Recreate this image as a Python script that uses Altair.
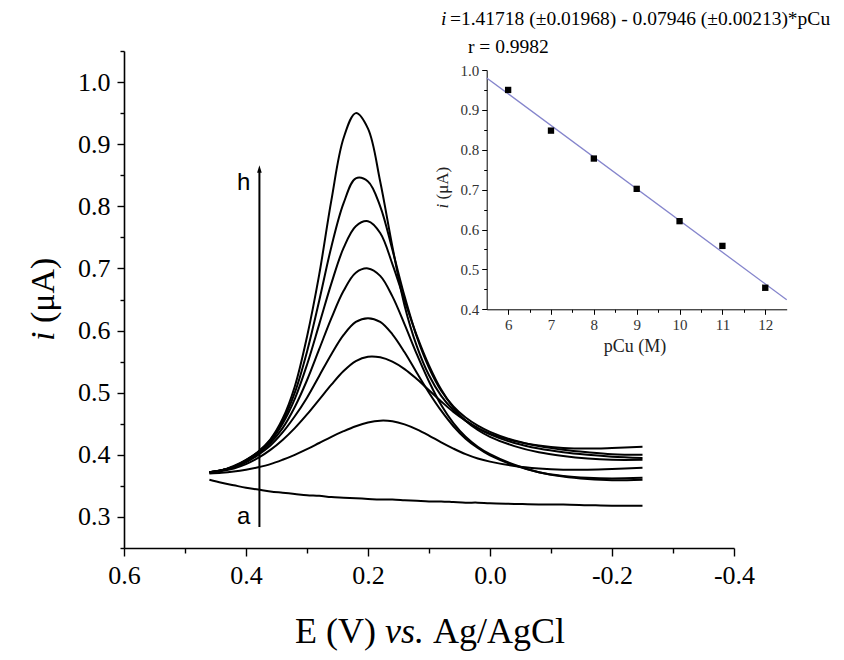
import altair as alt
import pandas as pd

# ---------------- data ----------------
E = [0.46, 0.44, 0.42, 0.40, 0.38, 0.36, 0.34, 0.32, 0.30, 0.28, 0.26, 0.24, 0.22, 0.20,
     0.18, 0.16, 0.14, 0.12, 0.10, 0.08, 0.06, 0.04, 0.02, 0.00, -0.04, -0.08, -0.12,
     -0.16, -0.20, -0.25]

curve_a = [0.360, 0.355, 0.351, 0.347, 0.344, 0.341, 0.339, 0.337, 0.335, 0.334, 0.332,
           0.331, 0.330, 0.329, 0.328, 0.328, 0.327, 0.326, 0.325, 0.325, 0.324, 0.323,
           0.323, 0.322, 0.321, 0.320, 0.320, 0.319, 0.318, 0.318]
curve_b = [0.370, 0.371, 0.373, 0.376, 0.380, 0.385, 0.392, 0.400, 0.409, 0.419, 0.429,
           0.438, 0.446, 0.452, 0.455, 0.454, 0.449, 0.441, 0.431, 0.420, 0.410, 0.401,
           0.394, 0.389, 0.382, 0.378, 0.376, 0.376, 0.377, 0.379]
curve_c = [0.372, 0.374, 0.378, 0.385, 0.395, 0.408, 0.424, 0.443, 0.465, 0.489, 0.513,
           0.535, 0.551, 0.558, 0.557, 0.550, 0.538, 0.522, 0.504, 0.486, 0.469, 0.455,
           0.443, 0.434, 0.422, 0.415, 0.411, 0.410, 0.411, 0.413]
curve_d = [0.372, 0.375, 0.380, 0.388, 0.400, 0.415, 0.436, 0.462, 0.492, 0.527, 0.562,
           0.593, 0.614, 0.620, 0.614, 0.594, 0.565, 0.532, 0.500, 0.471, 0.446, 0.426,
           0.411, 0.399, 0.383, 0.372, 0.366, 0.363, 0.362, 0.363]
curve_e = [0.372, 0.375, 0.381, 0.390, 0.402, 0.419, 0.443, 0.477, 0.520, 0.570, 0.620,
           0.664, 0.693, 0.700, 0.688, 0.655, 0.610, 0.562, 0.518, 0.480, 0.451, 0.429,
           0.413, 0.401, 0.384, 0.372, 0.365, 0.361, 0.359, 0.360]
curve_f = [0.372, 0.375, 0.381, 0.391, 0.404, 0.422, 0.450, 0.490, 0.545, 0.610, 0.676,
           0.733, 0.768, 0.776, 0.757, 0.707, 0.648, 0.592, 0.544, 0.505, 0.476, 0.455,
           0.440, 0.429, 0.414, 0.404, 0.398, 0.394, 0.392, 0.392]
curve_g = [0.372, 0.375, 0.381, 0.391, 0.405, 0.424, 0.454, 0.500, 0.566, 0.648, 0.735,
           0.805, 0.845, 0.840, 0.800, 0.730, 0.655, 0.590, 0.540, 0.503, 0.478, 0.460,
           0.447, 0.437, 0.423, 0.414, 0.408, 0.404, 0.401, 0.400]
curve_h = [0.372, 0.375, 0.382, 0.392, 0.405, 0.425, 0.458, 0.510, 0.590, 0.690, 0.810,
           0.910, 0.950, 0.925, 0.840, 0.735, 0.640, 0.575, 0.528, 0.495, 0.472, 0.455,
           0.443, 0.433, 0.419, 0.410, 0.404, 0.400, 0.397, 0.395]

curve_names = ["a", "b", "c", "d", "e", "f", "g", "h"]
curve_values = [curve_a, curve_b, curve_c, curve_d, curve_e, curve_f, curve_g, curve_h]

# arrow a -> h
arrow_E = [0.378]
arrow_i_start = [0.284]
arrow_i_end = [0.858]
label_E = [0.404, 0.404]
label_i = [0.838, 0.300]
label_txt = ["h", "a"]

# inset calibration data
pCu = [6, 7, 8, 9, 10, 11, 12]
peak_i = [0.950, 0.848, 0.778, 0.702, 0.621, 0.559, 0.454]
fit_intercept = 1.41718
fit_slope = -0.07946
fit_x = [5.5, 12.5]
fit_y = [fit_intercept + fit_slope * x for x in fit_x]

# axis tick values
x_vals = [0.6, 0.5, 0.4, 0.3, 0.2, 0.1, 0.0, -0.1, -0.2, -0.3, -0.4]
y_major = [0.3, 0.4, 0.5, 0.6, 0.7, 0.8, 0.9, 1.0]
y_minor = [0.25, 0.35, 0.45, 0.55, 0.65, 0.75, 0.85, 0.95, 1.05]
ix_vals = [6, 6.5, 7, 7.5, 8, 8.5, 9, 9.5, 10, 10.5, 11, 11.5, 12]
iy_major = [0.4, 0.5, 0.6, 0.7, 0.8, 0.9, 1.0]
iy_minor = [0.45, 0.55, 0.65, 0.75, 0.85, 0.95]

# ---------------- tables ----------------
rows = []
for name, vals in zip(curve_names, curve_values):
    for e, v in zip(E, vals):
        rows.append({"curve": name, "E": e, "i": v})
main_df = pd.DataFrame(rows)
arrow_df = pd.DataFrame({"E": arrow_E, "i0": arrow_i_start, "i1": arrow_i_end})
lab_df = pd.DataFrame({"E": label_E, "i": label_i, "t": label_txt})
pts_df = pd.DataFrame({"pCu": pCu, "ip": peak_i})
fit_df = pd.DataFrame({"pCu": fit_x, "ip": fit_y})
yminor_df = pd.DataFrame({"i": y_minor})
iyminor_df = pd.DataFrame({"ip": iy_minor})

SERIF = "Liberation Serif"
SANS = "Liberation Sans"

xmaj = "abs(datum.value*5 - round(datum.value*5)) < 0.001"
ixmaj = "abs(datum.value - round(datum.value)) < 0.001"

XS = alt.Scale(domain=[-0.4, 0.6], reverse=True, nice=False, zero=False)
YS = alt.Scale(domain=[0.25, 1.05], nice=False, zero=False)

x_main = alt.X("E:Q", scale=XS,
    axis=alt.Axis(title=None, values=x_vals, grid=False,
                  labelExpr=f"{xmaj} ? (datum.value < -0.001 ? '-' : '') + format(abs(datum.value), '.1f') : ''",
                  tickSize={"condition": {"test": xmaj, "value": 8}, "value": 5},
                  labelFont=SERIF, labelFontSize=26, labelPadding=6, labelOverlap=False,
                  labelFlush=False))
y_main = alt.Y("i:Q", scale=YS,
    axis=alt.Axis(title=None, orient="left", values=y_major, grid=False, format=".1f",
                  tickSize=7, labelFont=SERIF, labelFontSize=26, labelPadding=7,
                  labelOverlap=False, labelFlush=False))

curves = alt.Chart(main_df).mark_line(interpolate="catmull-rom", color="black",
                                      strokeWidth=2).encode(
    x=x_main, y=y_main, detail="curve:N",
    order=alt.Order("E:Q", sort="descending"))

yminor = alt.Chart(yminor_df).mark_point(opacity=0).encode(
    y=alt.Y("i:Q", scale=YS,
            axis=alt.Axis(title=None, orient="left", values=y_minor, labels=False,
                          domain=False, tickSize=4, grid=False)))

arrow = alt.Chart(arrow_df).mark_rule(color="black", strokeWidth=2).encode(
    x=alt.X("E:Q"), y=alt.Y("i0:Q", axis=None), y2="i1:Q")
head = alt.Chart(arrow_df).mark_point(shape="M0,-1.2L0.55,0.6L-0.55,0.6Z", filled=True,
                                      color="black", opacity=1, size=70).encode(
    x=alt.X("E:Q"), y=alt.Y("i1:Q", axis=None))
labs = alt.Chart(lab_df).mark_text(font=SANS, fontSize=24, color="black",
                                   baseline="middle", align="center").encode(
    x="E:Q", y=alt.Y("i:Q", axis=None), text="t:N")

main = alt.layer(curves, yminor, arrow, head, labs).resolve_axis(y="independent")

# ---------------- inset ----------------
IX0, IX1 = 362.7, 662.7
IY0, IY1 = 258.3, 19.0
IXS = alt.Scale(domain=[5.5, 12.5], range=[IX0, IX1], nice=False, zero=False)
IYS = alt.Scale(domain=[0.4, 1.0], range=[IY0, IY1], nice=False, zero=False)

x_in = alt.X("pCu:Q", scale=IXS,
    axis=alt.Axis(title=None, orient="bottom", offset=IY0 - 497, values=ix_vals,
                  grid=False, labelExpr=f"{ixmaj} ? format(datum.value, 'd') : ''",
                  tickSize={"condition": {"test": ixmaj, "value": 5}, "value": 3},
                  labelFont=SERIF, labelFontSize=15, labelPadding=3,
                  labelOverlap=False, labelFlush=False, labelColor="#333333",
                  domainWidth=1, tickWidth=1))
y_in = alt.Y("ip:Q", scale=IYS,
    axis=alt.Axis(title=None, orient="left", offset=-IX0, values=iy_major,
                  grid=False, format=".1f", tickSize=5,
                  labelFont=SERIF, labelFontSize=15, labelPadding=3,
                  labelOverlap=False, labelFlush=False, labelColor="#333333",
                  domainWidth=1, tickWidth=1))

fit = alt.Chart(fit_df).mark_line(color="#8585cc", strokeWidth=1.3).encode(x=x_in, y=y_in)
pts = alt.Chart(pts_df).mark_square(color="black", size=40, opacity=1).encode(
    x=alt.X("pCu:Q"), y=alt.Y("ip:Q", axis=None))
iyminor = alt.Chart(iyminor_df).mark_point(opacity=0).encode(
    y=alt.Y("ip:Q", scale=IYS,
            axis=alt.Axis(title=None, orient="left", offset=-IX0, values=iy_minor,
                          labels=False, domain=False, tickSize=3, tickWidth=1,
                          grid=False)))
inset = alt.layer(fit, pts, iyminor).resolve_axis(y="independent")

# ---------------- texts (positions in plot pixels) ----------------
one = pd.DataFrame({"k": [0]})


def txt(s, x, y, size, style="normal", align="left", angle=0, color="black"):
    return alt.Chart(one).mark_text(text=s, font=SERIF, fontSize=size, fontStyle=style,
                                    align=align, baseline="middle", angle=angle,
                                    color=color).encode(x=alt.value(x), y=alt.value(y))


texts = [
    # main x title
    txt("E (V)", 171, 581, 36),
    txt("vs.", 261, 581, 36, style="italic"),
    txt("Ag/AgCl", 309, 581, 36),
    # main y title
    txt("i", -80, 290, 34, style="italic", angle=270),
    txt("(μA)", -80, 272, 34, angle=270),
    # inset equation
    txt("i", 317, -32, 19.5, style="italic"),
    txt("=1.41718 (±0.01968) - 0.07946 (±0.00213)*pCu", 326, -32, 19.5),
    txt("r = 0.9982", 344, -4, 19.5),
    # inset axis titles
    txt("pCu (M)", 511, 296, 18, align="center", color="#222222"),
    txt("i", 319, 157.5, 17, style="italic", angle=270, color="#222222"),
    txt("(μA)", 319, 148.5, 17, angle=270, color="#222222"),
]

chart = alt.layer(main, inset, *texts).resolve_scale(
    x="independent", y="independent"
).properties(
    width=610, height=497,
    autosize=alt.AutoSizeParams(type="none"),
    padding={"left": 116, "top": 43, "right": 102, "bottom": 104},
    background="white",
).configure_view(stroke=None).configure_axis(
    domainColor="black", tickColor="black", labelColor="black", domainWidth=1.6,
    tickWidth=1.4, grid=False
)

chart.save("out.html", embed_options={"renderer": "svg", "actions": False})
